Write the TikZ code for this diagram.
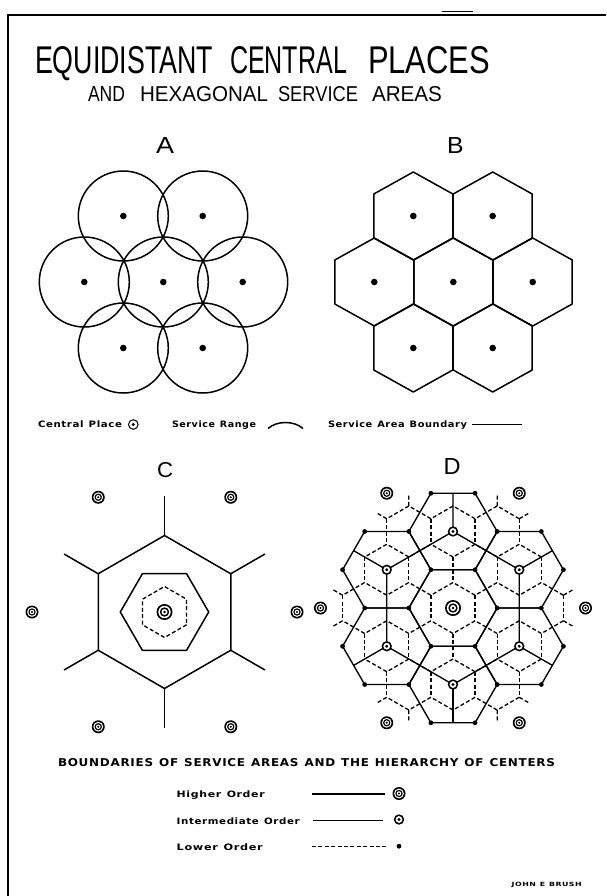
\documentclass[tikz,border=0pt]{standalone}
\usepackage{fontspec}
\usepackage{graphicx}
\setmainfont{Liberation Sans}
\newfontfamily\lbl[LetterSpace=6]{DejaVu Sans}
\usetikzlibrary{calc}
\makeatletter
\newif\ifPin \newif\ifQin \newif\ifRain \newif\ifRbin
\newif\ifXa \newif\ifXb \newif\ifAok \newif\ifBok \newif\ifPQx
\newcommand\testS[3]{\edef\tmp@x{\noexpand\in@{|#1,#2|}{\Slist}}\tmp@x
  \ifin@\csname #3true\endcsname\else\csname #3false\endcsname\fi}
\newcommand\testX[5]{\edef\tmp@x{\noexpand\in@{|#1,#2;#3,#4|}{\Xlist}}\tmp@x
  \ifin@\csname #5true\endcsname\else\csname #5false\endcsname\fi}
\makeatother
\def\Slist{|0,0|-1,2|1,1|-2,1|-1,-1|1,-2|2,-1|1,0|-1,0|0,1|0,-1|1,-1|-1,1|0,2|-2,2|-1,3|-2,3|2,1|1,2|2,0|-3,1|-2,0|-3,2|-2,-1|-1,-2|0,-2|2,-2|1,-3|2,-3|3,-1|3,-2|}
\def\Xlist{|-1,3;-2,3|-2,3;-1,3|2,1;1,2|1,2;2,1|-3,2;-3,1|-3,1;-3,2|-2,-1;-1,-2|-1,-2;-2,-1|1,-3;2,-3|2,-3;1,-3|3,-2;3,-1|3,-1;3,-2|}
\def\Lw{44.17}
\def\DOx{453}\def\DOy{608}
\newcommand\Dstub{%
  \ifPin\edef\si{\i}\edef\sj{\j}\else\edef\si{\qi}\edef\sj{\qj}\fi
  \Aokfalse\Bokfalse
  \ifRain\testX{\si}{\sj}{\rai}{\raj}{Xa}\ifXa\else\Aoktrue\fi\fi
  \ifRbin\testX{\si}{\sj}{\rbi}{\rbj}{Xb}\ifXb\else\Boktrue\fi\fi
  \ifAok\ifBok\draw[dsh] (\vax,\vay)--(\vbx,\vby);%
    \else\draw[dsh] (\vax,\vay)--($(\vax,\vay)!0.47!(\vbx,\vby)$);\fi
  \else\ifBok\draw[dsh] (\vbx,\vby)--($(\vbx,\vby)!0.47!(\vax,\vay)$);\fi\fi}
\tikzset{
  frm/.style={line width=1.5pt},
  ln/.style={line width=1.5pt, line join=round},
  dln/.style={line width=1.35pt, line join=round},
  dsh/.style={line width=1.3pt, dash pattern=on 4pt off 2.4pt},
  txt/.style={inner sep=0pt, outer sep=0pt, anchor=base west},
  cdot/.style={circle, fill=black, inner sep=0pt, minimum size=6.6pt},
  hsym/.pic={\fill[black] (0,0) circle[radius=6.5pt]; \fill[white] (0,0) circle[radius=4.9pt];
             \fill[black] (0,0) circle[radius=3.7pt]; \fill[white] (0,0) circle[radius=2.3pt];
             \fill[black] (0,0) circle[radius=1.1pt];},
  hsymL/.pic={\fill[black] (0,0) circle[radius=8pt]; \fill[white] (0,0) circle[radius=6.2pt];
             \fill[black] (0,0) circle[radius=4.7pt]; \fill[white] (0,0) circle[radius=3pt];
             \fill[black] (0,0) circle[radius=1.4pt];},
  isym/.pic={\fill[black] (0,0) circle[radius=5.2pt]; \fill[white] (0,0) circle[radius=3.4pt];
             \fill[black] (0,0) circle[radius=1.7pt];},
  lsym/.style={circle, fill=black, inner sep=0pt, minimum size=4.8pt},
}
\begin{document}
\begin{tikzpicture}[x=1pt,y=-1pt]
\useasboundingbox (0,0) rectangle (606,896);
\fill[white] (0,0) rectangle (606,896);
% frame
\draw[frm] (8,896) -- (8,15) -- (606,15);
\draw[line width=0.8pt] (442,11.5) -- (473,11.5);
% titles
\node[txt] (t1) at (35,74) {\resizebox{178pt}{27pt}{EQUIDISTANT}};
\node[txt] (t2) at (230,74) {\resizebox{117pt}{27pt}{CENTRAL}};
\node[txt] (t3) at (368,74) {\resizebox{122pt}{27pt}{PLACES}};
\node[txt] (s1) at (88,101.7) {\resizebox{37pt}{15pt}{AND}};
\node[txt] (s2) at (140,101.7) {\resizebox{128pt}{15pt}{HEXAGONAL}};
\node[txt] (s3) at (278,101.7) {\resizebox{80pt}{15pt}{SERVICE}};
\node[txt] (s4) at (372,101.7) {\resizebox{70pt}{15pt}{AREAS}};
% panel letters
\node[txt] (lA) at (156,153.3) {\resizebox{18pt}{16pt}{A}};
\node[txt] (lB) at (447,153.3) {\resizebox{16.5pt}{16pt}{B}};
\node[txt] (lC) at (157,477) {\resizebox{16pt}{15pt}{C}};
\node[txt] (lD) at (443.5,474) {\resizebox{17pt}{16pt}{D}};
% ---------- panel A
\foreach \n/\x/\y in {1/123.3/216,2/202.7/216,3/84.3/282,4/163.3/282,5/242.7/282,6/123.3/348,7/202.7/348}{
  \draw[ln] (\x,\y) circle[radius=45pt];
  \node[cdot] (A\n) at (\x,\y) {};
}
% ---------- panel B
\foreach \n/\x/\y in {1/413.3/216,2/492.7/216,3/374.3/282,4/453.3/282,5/532.7/282,6/413.3/348,7/492.7/348}{
  \draw[ln] (\x,{\y-44}) -- ({\x+39.5},{\y-22}) -- ({\x+39.5},{\y+22}) -- (\x,{\y+44})
     -- ({\x-39.5},{\y+22}) -- ({\x-39.5},{\y-22}) -- cycle;
  \node[cdot] (B\n) at (\x,\y) {};
}
% ---------- legend row
\node[txt] (k1) at (38,427.5) {\resizebox{84pt}{6.7pt}{\lbl\bfseries Central\enspace Place}};
\draw[line width=1pt] (133.3,424.5) circle[radius=4.8pt];
\fill (133.3,424.5) circle[radius=1.6pt];
\node[txt] (k2) at (172,427.5) {\resizebox{84pt}{6.7pt}{\lbl\bfseries Service\enspace Range}};
\draw[ln] (268,428.5) .. controls (277,420.5) and (294,420.5) .. (303,428.5);
\node[txt] (k3) at (328,427.5) {\resizebox{139pt}{6.7pt}{\lbl\bfseries Service\enspace Area\enspace Boundary}};
\coordinate (k3a) at (472,424.5); \coordinate (k3b) at (522,424.5);
\draw[ln] (k3a) -- (k3b);
% ---------- panel C
\coordinate (Cc) at (164.5,612);
\draw[ln] ($(Cc)+(30:76.5)$) \foreach \a in {90,150,210,270,330}{ -- ($(Cc)+(\a:76.5)$)} -- cycle;
\foreach \a in {30,90,...,330} \draw[ln] ($(Cc)+(\a:76.5)$) -- ($(Cc)+(\a:116)$);
\draw[ln] ($(Cc)+(0:44.2)$) \foreach \a in {60,120,...,300}{ -- ($(Cc)+(\a:44.2)$)} -- cycle;
\draw[dsh] ($(Cc)+(30:25.5)$) \foreach \a in {90,150,210,270,330}{ -- ($(Cc)+(\a:25.5)$)} -- cycle;
\pic at (Cc) {hsymL};
\foreach \a in {0,60,...,300} \pic at ($(Cc)+(\a:132.5)$) {hsym};
% ---------- panel D
\foreach \i in {-4,...,4}{\foreach \j in {-4,...,4}{
  \coordinate (L\i x\j) at ({\DOx+\Lw*(\i)+0.5*\Lw*(\j)},{\DOy-0.8660254*\Lw*(\j)});
}}
% lower-order boundaries (dashed)
\foreach \i in {-5,...,5}{\foreach \j in {-5,...,5}{
\foreach \dA/\dB/\rA/\rB/\sA/\sB in {1/0/0/1/1/-1, 0/1/1/0/-1/1, -1/1/0/1/-1/0}{
  \pgfmathtruncatemacro\qi{\i+\dA}\pgfmathtruncatemacro\qj{\j+\dB}
  \pgfmathtruncatemacro\rai{\i+\rA}\pgfmathtruncatemacro\raj{\j+\rB}
  \pgfmathtruncatemacro\rbi{\i+\sA}\pgfmathtruncatemacro\rbj{\j+\sB}
  \testS{\i}{\j}{Pin}\testS{\qi}{\qj}{Qin}\testS{\rai}{\raj}{Rain}\testS{\rbi}{\rbj}{Rbin}
  \pgfmathsetmacro\vax{\DOx+\Lw*((\i)+(\qi)+(\rai))/3+0.5*\Lw*((\j)+(\qj)+(\raj))/3}
  \pgfmathsetmacro\vay{\DOy-0.8660254*\Lw*((\j)+(\qj)+(\raj))/3}
  \pgfmathsetmacro\vbx{\DOx+\Lw*((\i)+(\qi)+(\rbi))/3+0.5*\Lw*((\j)+(\qj)+(\rbj))/3}
  \pgfmathsetmacro\vby{\DOy-0.8660254*\Lw*((\j)+(\qj)+(\rbj))/3}
  \ifPin\ifQin\testX{\i}{\j}{\qi}{\qj}{PQx}\ifPQx\else\draw[dsh] (\vax,\vay)--(\vbx,\vby);\fi
  \else\Dstub\fi\else\ifQin\Dstub\fi\fi
}}}
% intermediate-order boundaries (solid hexagons)
\foreach \ci/\cj in {0/0,-1/2,1/1,-2/1,-1/-1,1/-2,2/-1}{
  \pgfmathtruncatemacro\ap{\ci+1}\pgfmathtruncatemacro\am{\ci-1}
  \pgfmathtruncatemacro\bp{\cj+1}\pgfmathtruncatemacro\bm{\cj-1}
  \draw[dln] (L\ap x\cj) -- (L\ci x\bp) -- (L\am x\bp) -- (L\am x\cj) -- (L\ci x\bm) -- (L\ap x\bm) -- cycle;
}
% higher-order boundary
\draw[dln] (L1x1) -- (L-1x2) -- (L-2x1) -- (L-1x-1) -- (L1x-2) -- (L2x-1) -- cycle;
\foreach \p in {1x1,-1x2,-2x1,-1x-1,1x-2,2x-1}
  \draw[dln] (L\p) -- ($(L0x0)!1.5!(L\p)$);
% lower-order centres
\foreach \p in {1x0,-1x0,0x1,0x-1,1x-1,-1x1,0x2,-2x2,-1x3,-2x3,2x1,1x2,2x0,-3x1,-2x0,-3x2,-2x-1,-1x-2,0x-2,2x-2,1x-3,2x-3,3x-1,3x-2}
  \node[lsym] (d\p) at (L\p) {};
% intermediate centres
\foreach \p in {1x1,-1x2,-2x1,-1x-1,1x-2,2x-1} \pic at (L\p) {isym};
% higher centres
\pic at (L0x0) {hsymL};
\foreach \p in {3x0,0x3,-3x3,-3x0,0x-3,3x-3} \pic at (L\p) {hsym};
% ---------- caption and legend
\node[txt] (cap) at (58,766) {\resizebox{497pt}{8pt}{\lbl\bfseries BOUNDARIES\enspace OF\enspace SERVICE\enspace AREAS\enspace AND\enspace THE\enspace HIERARCHY\enspace OF\enspace CENTERS}};
\node[txt] (h1) at (176.7,797.3) {\resizebox{88pt}{6.7pt}{\lbl\bfseries Higher\enspace Order}};
\node[txt] (h2) at (176.7,824) {\resizebox{123pt}{6.7pt}{\lbl\bfseries Intermediate\enspace Order}};
\node[txt] (h3) at (176.7,850) {\resizebox{86pt}{6.7pt}{\lbl\bfseries Lower\enspace Order}};
\coordinate (g1a) at (311.7,794); \coordinate (g1b) at (385,794);
\coordinate (g2a) at (313,820.7); \coordinate (g2b) at (383.3,820.7);
\coordinate (g3a) at (312,846.7); \coordinate (g3b) at (387,846.7);
\draw[ln] (g1a) -- (g1b);
\draw[dln] (g2a) -- (g2b);
\draw[dsh] (g3a) -- (g3b);
\pic at (399,793.5) {hsym};
\pic at (399,819.5) {isym};
\node[lsym] (g3d) at (399,846.2) {};
\node[txt] (sig) at (511.7,886.5) {\resizebox{70pt}{4.3pt}{\lbl\bfseries JOHN\enspace E\enspace BRUSH}};
\end{tikzpicture}
\end{document}
